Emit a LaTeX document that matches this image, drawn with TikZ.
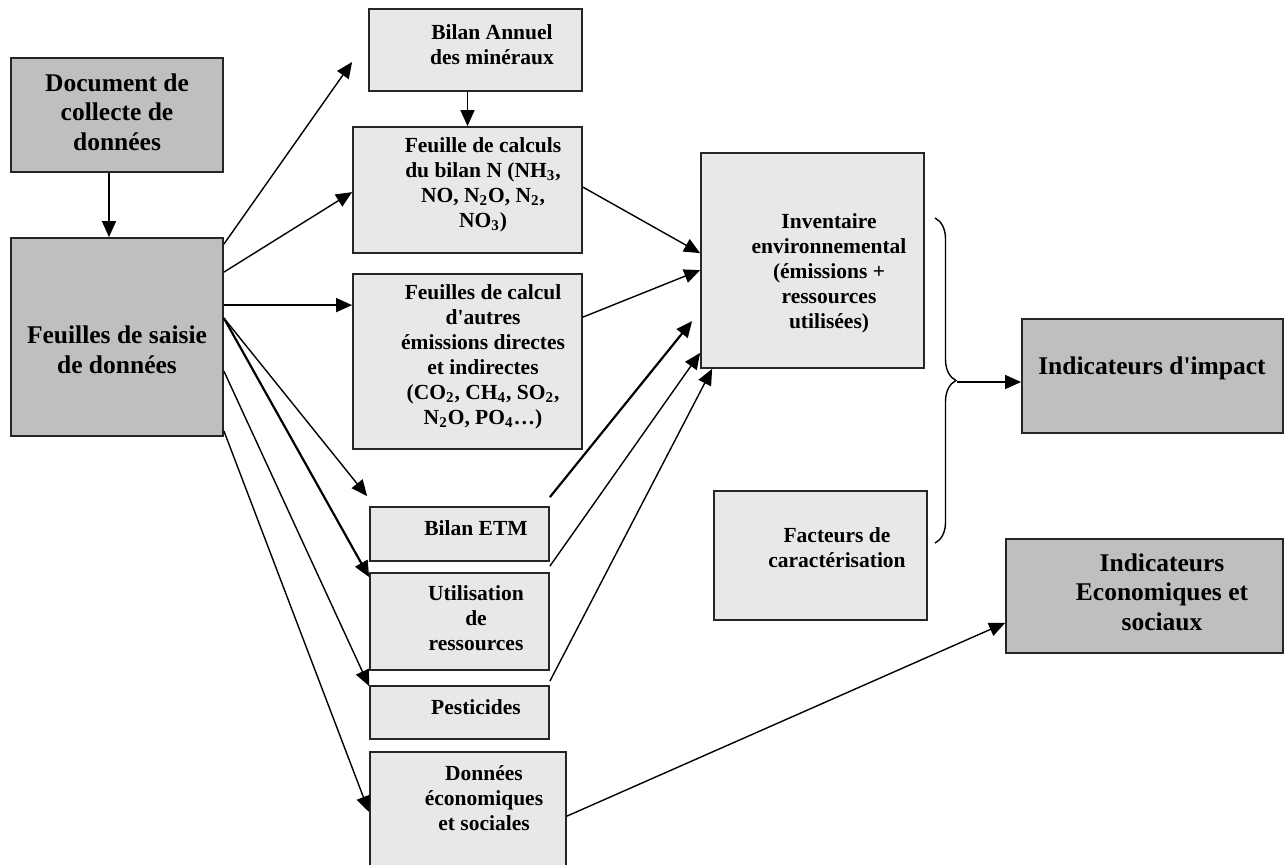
\documentclass[tikz,border=0pt]{standalone}
\usepackage{fontspec}
\setmainfont{Liberation Serif}
\usetikzlibrary{arrows.meta,calc,fit,decorations.pathreplacing}

\tikzset{
  box/.style={draw=black!85, line width=0.9pt, inner sep=0pt},
  darkbox/.style={box, fill=black!25},
  lightbox/.style={box, fill=black!9},
  bigtxt/.style={align=center, inner sep=0pt, font=\fontsize{12.75}{14.75}\selectfont\bfseries},
  smalltxt/.style={align=center, inner sep=0pt, font=\fontsize{10.75}{12.5}\selectfont\bfseries},
  link/.style={line width=0.7pt, -{Triangle[length=8pt,width=7pt]}},
}

\begin{document}
\begin{tikzpicture}[x=0.5pt, y=-0.5pt]
\useasboundingbox (0,0) rectangle (1288,864);

% boxes
\node[darkbox, fit={(11,58) (223,172)}] (DC) {};
\node[darkbox, fit={(11,238) (223,436)}] (FS) {};
\node[lightbox, fit={(369,9) (582,91)}] (BA) {};
\node[lightbox, fit={(353,127) (582,253)}] (FN) {};
\node[lightbox, fit={(353,274) (582,449)}] (FA) {};
\node[lightbox, fit={(370,507) (549,561)}] (ETM) {};
\node[lightbox, fit={(370,573) (549,670)}] (UR) {};
\node[lightbox, fit={(370,686) (549,739)}] (PE) {};
\node[lightbox, fit={(370,752) (566,884)}] (DE) {};
\node[lightbox, fit={(701,153) (924,368)}] (INV) {};
\node[lightbox, fit={(714,491) (927,620)}] (FC) {};
\node[darkbox, fit={(1022,319) (1283,433)}] (II) {};
\node[darkbox, fit={(1006,539) (1283,653)}] (IES) {};

% texts
\node[bigtxt] (DC-t) at (117,112) {Document de\\collecte de\\données};
\node[bigtxt] (FS-t) at (117,350) {Feuilles de saisie\\de données};
\node[smalltxt] (BA-t) at (492,45) {Bilan Annuel\\des minéraux};
\node[smalltxt] (FN-t) at (483,185) {Feuille de calculs\\du bilan N (NH\textsubscript{3},\\NO, N\textsubscript{2}O, N\textsubscript{2},\\NO\textsubscript{3})};
\node[smalltxt] (FA-t) at (483,357) {Feuilles de calcul\\d\textquotesingle autres\\émissions directes\\et indirectes\\(CO\textsubscript{2}, CH\textsubscript{4}, SO\textsubscript{2},\\N\textsubscript{2}O, PO\textsubscript{4}…)};
\node[smalltxt] (ETM-t) at (476,528) {Bilan ETM};
\node[smalltxt] (UR-t) at (476,618) {Utilisation\\de\\ressources};
\node[smalltxt] (PE-t) at (476,707) {Pesticides};
\node[smalltxt] (DE-t) at (484,798) {Données\\économiques\\et sociales};
\node[smalltxt] (INV-t) at (829,273) {Inventaire\\environnemental\\(émissions +\\ressources\\utilisées)};
\node[smalltxt] (FC-t) at (837,548) {Facteurs de\\caractérisation};
\node[bigtxt] (II-t) at (1152,368) {Indicateurs d\textquotesingle impact};
\node[bigtxt] (IES-t) at (1162,592) {Indicateurs\\Economiques et\\sociaux};

% arrows
\draw[link] ($(DC.south)+(-8,0)$) -- ($(FS.north)+(-8,0)$);
\draw[link] (BA.south -| FN.north) -- (FN.north);
\draw[link] ($(FS.north east)+(0,7)$) -- ($(BA.west)+(-16,12)$);
\draw[link] ($(FS.north east)+(0,35)$) -- ($(FN.north west)+(0,66)$);
\draw[link] ($(FS.north east)+(0,68)$) -- ($(FA.north west)+(0,32)$);
\draw[link] ($(FS.north east)+(0,81)$) -- ($(ETM.north west)+(-2,-10)$);
\draw[link, line width=1.1pt] ($(FS.north east)+(0,81)$) -- ($(UR.north west)+(0,5)$);
\draw[link] ($(FS.north east)+(0,134)$) -- ($(PE.north west)+(0,1)$);
\draw[link] ($(FS.south east)+(0,-6)$) -- ($(DE.north west)+(0,61)$);
\draw[link] ($(FN.north east)+(0,61)$) -- ($(INV.north west)+(0,101)$);
\draw[link] ($(FA.north east)+(0,44)$) -- ($(INV.north west)+(0,118)$);
\draw[link, line width=1.1pt] ($(ETM.north east)+(0,-9)$) -- ($(INV.north west)+(-8,169)$);
\draw[link] ($(UR.north east)+(0,-6)$) -- ($(INV.south west)+(0,-16)$);
\draw[link] ($(PE.north east)+(0,-4)$) -- ($(INV.south west)+(12,0)$);
\draw[link] ($(DE.north east)+(0,65)$) -- ($(IES.south west)+(0,-31)$);

% brace
\draw[line width=0.7pt, decorate, decoration={brace, amplitude=10.5pt}] (935,218) -- (935,543);
\coordinate (BR) at (957,382);
\draw[link] (BR) -- (BR -| II.west);
\end{tikzpicture}
\end{document}
